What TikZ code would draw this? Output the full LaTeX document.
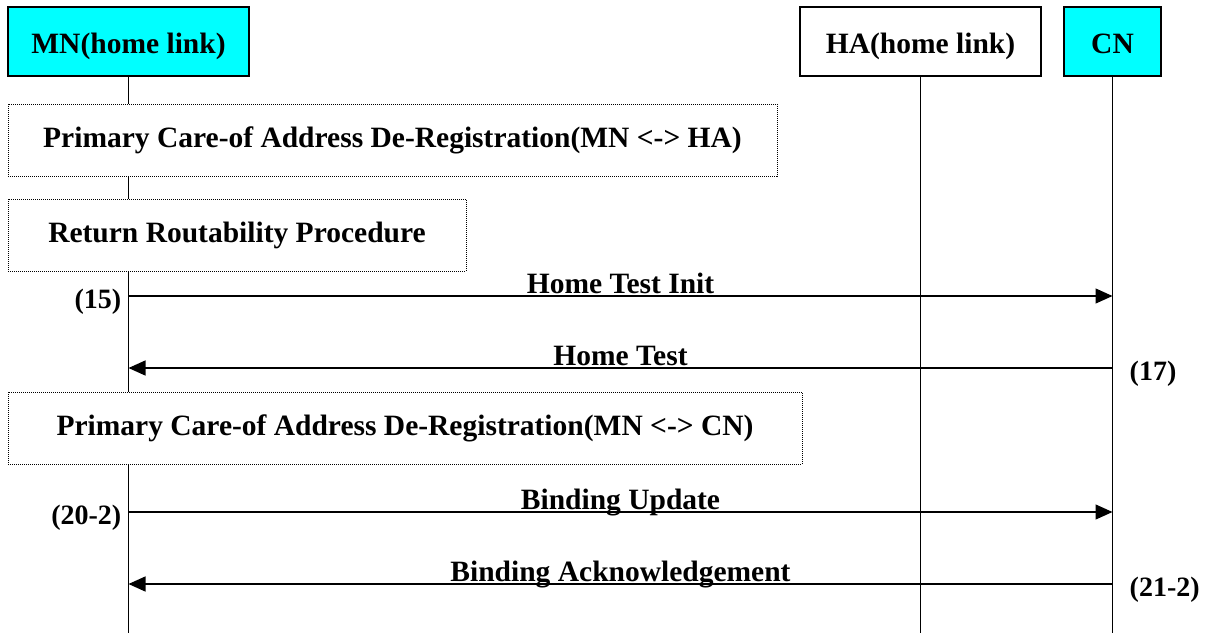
\documentclass[tikz,border=0pt]{standalone}
\usepackage{fontspec}
\setmainfont{Liberation Serif}
\usetikzlibrary{arrows.meta}

\definecolor{nodecyan}{RGB}{0,255,255}

\tikzset{
  entity/.style={draw, line width=1.6pt, minimum height=69pt, inner sep=0pt,
    text height=25pt, text depth=2pt,
    font=\fontsize{29.5}{33}\selectfont\bfseries},
  phase/.style={draw, densely dotted, fill=white, line width=1pt, minimum height=72pt,
    inner sep=0pt, font=\fontsize{29.5}{33}\selectfont\bfseries},
  lifeline/.style={line width=1.3pt},
  msg/.style={line width=1.3pt, -{Triangle[length=17pt,width=15pt]}},
  msglabel/.style={anchor=base, yshift=3pt, inner sep=0pt,
    font=\fontsize{29.5}{33}\selectfont\bfseries},
  stepnum/.style={inner sep=0pt, font=\fontsize{28}{32}\selectfont\bfseries}
}

\begin{document}
\begin{tikzpicture}[x=1pt, y=-1pt]
\useasboundingbox (0,0) rectangle (1215,632);

\node (MN) at (128.5,41.5) [entity, fill=nodecyan, minimum width=241pt]{MN(home link)};
\node (HA) at (920.5,41.5) [entity, minimum width=241pt]{HA(home link)};
\node (CN) at (1112.5,41.5) [entity, fill=nodecyan, minimum width=97pt]{CN};

\coordinate (bottom) at (0,640);
\draw [lifeline] (MN) -- (MN |- bottom);
\draw [lifeline] (HA) -- (HA |- bottom);
\draw [lifeline] (CN) -- (CN |- bottom);

\node (P1) at (392.5,140) [phase, minimum width=769pt]{Primary Care-of Address De-Registration(MN <-> HA)};
\node (P2) at (237,235) [phase, minimum width=458pt]{Return Routability Procedure};
\node (P3) at (405,428) [phase, minimum width=794pt]{Primary Care-of Address De-Registration(MN <-> CN)};

\coordinate (y15) at (0,296);
\coordinate (y17) at (0,368);
\coordinate (y20) at (0,512);
\coordinate (y21) at (0,584);

\draw [msg] (MN |- y15) -- node[msglabel]{Home Test Init} (CN |- y15);
\draw [msg] (CN |- y17) -- node[msglabel]{Home Test} (MN |- y17);
\draw [msg] (MN |- y20) -- node[msglabel]{Binding Update} (CN |- y20);
\draw [msg] (CN |- y21) -- node[msglabel]{Binding Acknowledgement} (MN |- y21);

\node (s15) [stepnum, anchor=base east] at ([xshift=-7pt,yshift=-12pt]MN |- y15){(15)};
\node (s17) [stepnum, anchor=base west] at ([xshift=17pt,yshift=-12pt]CN |- y17){(17)};
\node (s20) [stepnum, anchor=base east] at ([xshift=-7pt,yshift=-12pt]MN |- y20){(20-2)};
\node (s21) [stepnum, anchor=base west] at ([xshift=17pt,yshift=-12pt]CN |- y21){(21-2)};

\end{tikzpicture}
\end{document}
